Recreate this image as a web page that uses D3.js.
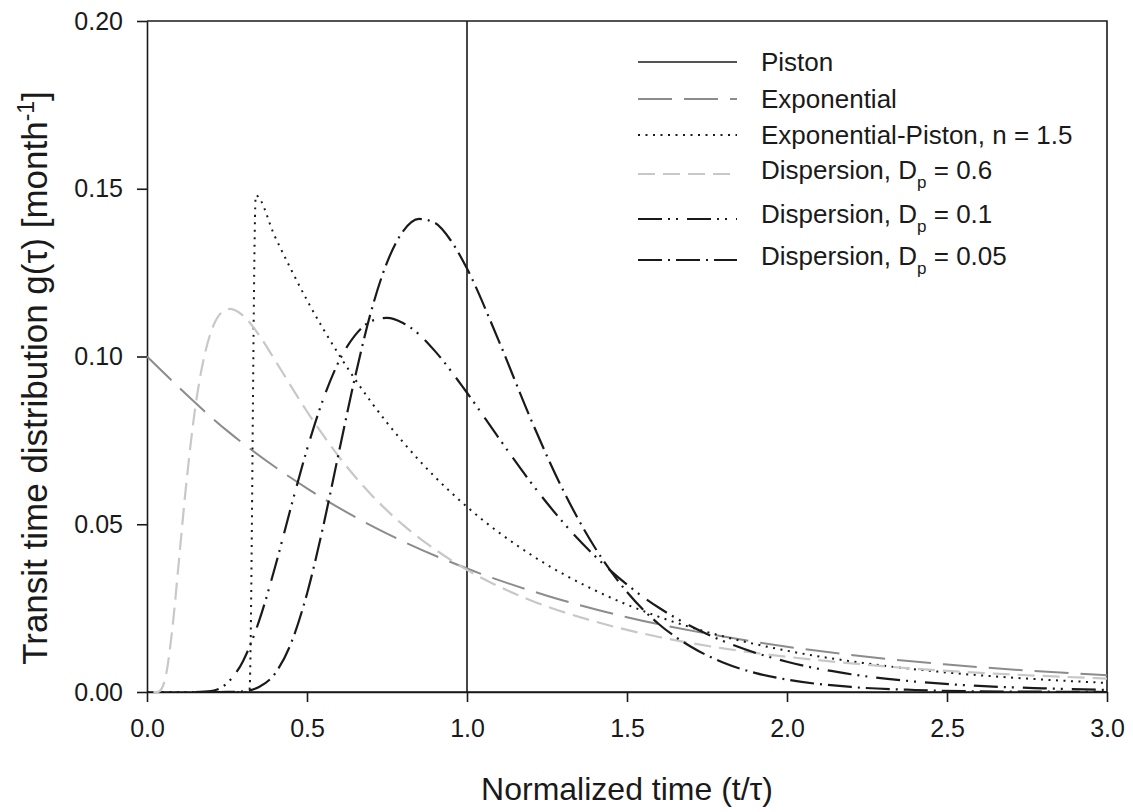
<!DOCTYPE html>
<html>
<head>
<meta charset="utf-8">
<script src="https://cdn.jsdelivr.net/npm/d3@7.9.0/dist/d3.min.js"></script>
<style>
  body { margin: 0; background: #fff; }
  svg { display: block; font-family: "Liberation Sans", Arial, sans-serif; }
  text { fill: #1a1a1a; }
</style>
</head>
<body>
<svg id="chart" width="1133" height="812"></svg>
<script>
// === Data: [t/tau, g(tau)] ===
const piston = [[0, 0], [1, 0], [1, 0.2], [1, 0], [3, 0]];

const exponential = [
  [0, 0.1], [0.25, 0.0779], [0.5, 0.0607], [0.75, 0.0472], [1.0, 0.0368],
  [1.25, 0.0287], [1.5, 0.0223], [1.75, 0.0174], [2.0, 0.0135], [2.25, 0.0105],
  [2.5, 0.0082], [2.75, 0.0064], [3.0, 0.0050]
];

const expPiston = [
  [0, 0], [0.32, 0], [0.34, 0.148], [0.40, 0.1357], [0.50, 0.1168], [0.60, 0.1005],
  [0.70, 0.0865], [0.80, 0.0745], [0.90, 0.0641], [1.00, 0.0552], [1.20, 0.0409],
  [1.40, 0.0303], [1.60, 0.0224], [1.80, 0.0166], [2.00, 0.0123], [2.25, 0.0085],
  [2.50, 0.0058], [2.75, 0.0040], [3.00, 0.0027]
];

const dispersion06 = [
  [0.02, 0], [0.03, 0], [0.04, 0.0003], [0.05, 0.0018], [0.06, 0.0054], [0.08, 0.0196],
  [0.10, 0.0394], [0.12, 0.0595], [0.15, 0.0842], [0.18, 0.1005], [0.20, 0.1073],
  [0.23, 0.1128], [0.26, 0.1142], [0.30, 0.1122], [0.35, 0.1064], [0.40, 0.0989],
  [0.50, 0.0836], [0.60, 0.0701], [0.70, 0.0589], [0.80, 0.0498], [0.90, 0.0425],
  [1.00, 0.0364], [1.20, 0.0273], [1.40, 0.0210], [1.60, 0.0164], [1.80, 0.0130],
  [2.00, 0.0105], [2.25, 0.0081], [2.50, 0.0063], [2.75, 0.0050], [3.00, 0.0040]
];

const dispersion01 = [
  [0.15, 0], [0.20, 0.0003], [0.25, 0.0026], [0.30, 0.0092], [0.35, 0.0211],
  [0.40, 0.0372], [0.45, 0.0551], [0.50, 0.0723], [0.55, 0.0871], [0.60, 0.0986],
  [0.65, 0.1063], [0.70, 0.1105], [0.75, 0.1115], [0.80, 0.1100], [0.85, 0.1066],
  [0.90, 0.1016], [1.00, 0.0892], [1.10, 0.0756], [1.20, 0.0624], [1.30, 0.0506],
  [1.40, 0.0405], [1.50, 0.0320], [1.60, 0.0251], [1.70, 0.0196], [1.80, 0.0152],
  [2.00, 0.0090], [2.20, 0.0053], [2.40, 0.0031], [2.60, 0.0018], [2.80, 0.0011],
  [3.00, 0.0006]
];

const dispersion005 = [
  [0.20, 0], [0.25, 0.00001], [0.30, 0.0002], [0.35, 0.0015], [0.40, 0.0055],
  [0.45, 0.0145], [0.50, 0.0293], [0.55, 0.0491], [0.60, 0.0716], [0.65, 0.0938],
  [0.70, 0.1133], [0.75, 0.1280], [0.80, 0.1373], [0.85, 0.1410], [0.90, 0.1398],
  [0.95, 0.1345], [1.00, 0.1262], [1.10, 0.1045], [1.20, 0.0812], [1.30, 0.0602],
  [1.40, 0.0430], [1.50, 0.0298], [1.60, 0.0202], [1.70, 0.0135], [1.80, 0.0088],
  [1.90, 0.0057], [2.00, 0.0037], [2.20, 0.0015], [2.40, 0.0006], [2.60, 0.0002],
  [2.80, 0.0001], [3.00, 0]
];

const xTicks = [0, 0.5, 1.0, 1.5, 2.0, 2.5, 3.0];
const yTicks = [0, 0.05, 0.10, 0.15, 0.20];

// series styles (legend order)
const series = [
  { label: 'Piston', data: piston, color: '#1a1a1a', width: 1.6, dash: null, curve: d3.curveLinear },
  { label: 'Exponential', data: exponential, color: '#8c8c8c', width: 2, dash: '34,12', curve: d3.curveMonotoneX },
  { label: 'Exponential-Piston, n = 1.5', data: expPiston, color: '#1a1a1a', width: 2, dash: '2,5.5', curve: d3.curveMonotoneX },
  { label: 'Dispersion, D', sub: 'p', tail: ' = 0.6', data: dispersion06, color: '#c8c8c8', width: 2.2, dash: '17,8', curve: d3.curveMonotoneX },
  { label: 'Dispersion, D', sub: 'p', tail: ' = 0.1', data: dispersion01, color: '#1a1a1a', width: 2.2, dash: '24,6,2,6,2,9', curve: d3.curveMonotoneX },
  { label: 'Dispersion, D', sub: 'p', tail: ' = 0.05', data: dispersion005, color: '#1a1a1a', width: 2.2, dash: '24,6,2,6', curve: d3.curveMonotoneX }
];

// === Layout ===
const plotLeft = 147, plotRight = 1107, plotTop = 21, plotBottom = 692;
const svg = d3.select('#chart');

const x = d3.scaleLinear().domain([0, 3]).range([plotLeft, plotRight]);
const y = d3.scaleLinear().domain([0, 0.2]).range([plotBottom, plotTop]);

// === Axes ===
const xAxis = d3.axisBottom(x).tickValues(xTicks).tickFormat(d3.format('.1f'))
  .tickSize(10).tickPadding(17).tickSizeOuter(0);
const yAxis = d3.axisLeft(y).tickValues(yTicks).tickFormat(d3.format('.2f'))
  .tickSize(10).tickPadding(14).tickSizeOuter(0);

const gx = svg.append('g').attr('transform', `translate(0,${plotBottom})`).call(xAxis);
const gy = svg.append('g').attr('transform', `translate(${plotLeft},0)`).call(yAxis);

[gx, gy].forEach(g => {
  g.select('.domain').attr('stroke', '#1a1a1a').attr('stroke-width', 1.6);
  g.selectAll('.tick line').attr('stroke', '#1a1a1a').attr('stroke-width', 1.6);
  g.selectAll('.tick text').attr('font-size', 25).attr('fill', '#1a1a1a')
    .attr('font-family', '"Liberation Sans", Arial, sans-serif');
});

// frame: top and right
svg.append('path')
  .attr('d', `M${plotLeft},${plotTop}H${plotRight}V${plotBottom}`)
  .attr('fill', 'none').attr('stroke', '#1a1a1a').attr('stroke-width', 1.6);

// === Curves ===
series.forEach(s => {
  const line = d3.line().x(d => x(d[0])).y(d => y(d[1])).curve(s.curve);
  svg.append('path')
    .datum(s.data)
    .attr('d', line)
    .attr('fill', 'none')
    .attr('stroke', s.color)
    .attr('stroke-width', s.width)
    .attr('stroke-dasharray', s.dash);
});

// === Legend ===
const legendRows = [62, 99, 135, 174, 219, 260];
const legendBase = [71, 108, 144, 179, 223, 265];
const legend = svg.append('g');

series.forEach((s, i) => {
  legend.append('line')
    .attr('x1', 638).attr('x2', 737)
    .attr('y1', legendRows[i]).attr('y2', legendRows[i])
    .attr('stroke', s.color)
    .attr('stroke-width', s.width)
    .attr('stroke-dasharray', s.dash);

  const t = legend.append('text')
    .attr('x', 761).attr('y', legendBase[i])
    .attr('font-size', 26);
  t.append('tspan').text(s.label);
  if (s.sub) {
    t.append('tspan').attr('dy', 9).attr('font-size', 17).text(s.sub);
    t.append('tspan').attr('dy', -9).text(s.tail);
  }
});

// === Axis titles ===
svg.append('text')
  .attr('x', (plotLeft + plotRight) / 2).attr('y', 800)
  .attr('text-anchor', 'middle')
  .attr('font-size', 32)
  .text('Normalized time (t/\u03c4)');

const yTitle = svg.append('text')
  .attr('transform', `translate(47,378) rotate(-90)`)
  .attr('text-anchor', 'middle')
  .attr('font-size', 35);
yTitle.append('tspan').text('Transit time distribution g(\u03c4) [month');
yTitle.append('tspan').attr('dy', -13).attr('font-size', 23).text('-1');
yTitle.append('tspan').attr('dy', 13).text(']');
</script>
</body>
</html>
